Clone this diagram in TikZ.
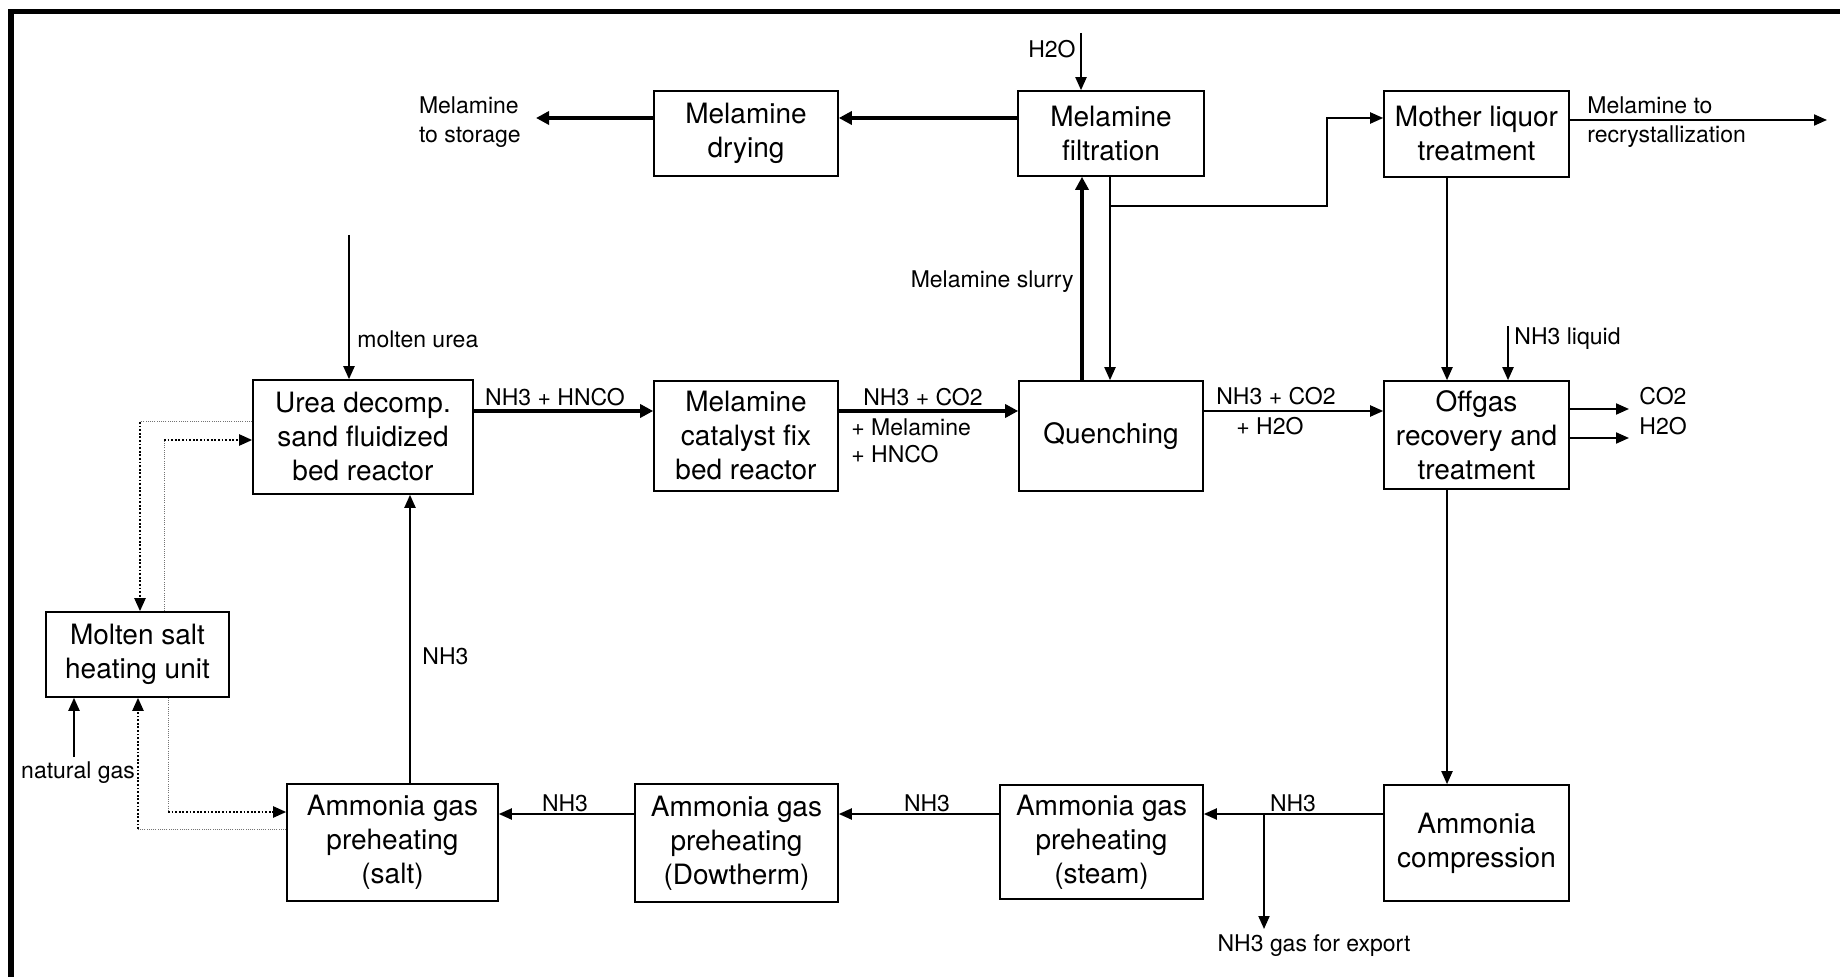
\documentclass[tikz,border=0pt]{standalone}
\usepackage{fontspec}
\setmainfont{TeX Gyre Heros}
\usetikzlibrary{arrows.meta}
\tikzset{
  box/.style={draw, line width=0.8pt, align=center, inner sep=0pt, font=\fontsize{14}{17}\selectfont},
  lbl/.style={font=\fontsize{11.5}{14.5}\selectfont, inner sep=0pt},
  flow/.style={line width=1pt, -{Triangle[length=6.5pt,width=5.5pt]}},
  thickflow/.style={line width=2.3pt, -{Triangle[length=6.5pt,width=6.5pt]}},
  thindot/.style={line width=0.5pt, black!55, dash pattern=on 0.5pt off 0.6pt},
  thickdot/.style={line width=1.1pt, dash pattern=on 0.9pt off 0.9pt, -{Triangle[length=6.5pt,width=5.5pt]}},
  frameline/.style={line width=2.8pt}
}
\begin{document}
\begin{tikzpicture}[x=0.5pt,y=-0.5pt]
\useasboundingbox (0,0) rectangle (1840,977);
\draw[frameline] (11,977) -- (11,11.5) -- (1840,11.5);

% boxes
\node[box, minimum width=92pt, minimum height=42.5pt] (drying) at (746,133.5) {Melamine\\drying};
\node[box, minimum width=93pt, minimum height=42.5pt] (filt) at (1111,133.5) {Melamine\\filtration};
\node[box, minimum width=92.5pt, minimum height=43pt] (mother) at (1476.5,134) {Mother liquor\\treatment};
\node[box, minimum width=110pt, minimum height=57pt] (urea) at (363,437) {Urea decomp.\\sand fluidized\\bed reactor};
\node[box, minimum width=92pt, minimum height=55pt] (cat) at (746,436) {Melamine\\catalyst fix\\bed reactor};
\node[box, minimum width=92pt, minimum height=55pt] (quench) at (1111,436) {Quenching};
\node[box, minimum width=92.5pt, minimum height=54pt] (offgas) at (1476.5,435) {Offgas\\recovery and\\treatment};
\node[box, minimum width=91.5pt, minimum height=42.5pt] (molten) at (137.5,654.5) {Molten salt\\heating unit};
\node[box, minimum width=105.5pt, minimum height=58.5pt] (salt) at (392.5,842.5) {Ammonia gas\\preheating\\(salt)};
\node[box, minimum width=101.5pt, minimum height=59pt] (dow) at (736.5,843) {Ammonia gas\\preheating\\(Dowtherm)};
\node[box, minimum width=101.5pt, minimum height=57pt] (steam) at (1101.5,842) {Ammonia gas\\preheating\\(steam)};
\node[box, minimum width=92.5pt, minimum height=58pt] (comp) at (1476.5,843) {Ammonia\\compression};

% free ends
\coordinate (storage) at (536,118);
\coordinate (h2oin) at (1081,33);
\coordinate (brA) at (1110,206);
\coordinate (brB) at (1327,206);
\coordinate (brC) at (1327,118);
\coordinate (recryst) at (1827,120);
\coordinate (nh3liq) at (1508,326);
\coordinate (ureain) at (349,235);
\coordinate (co2out) at (1629,409);
\coordinate (h2oout) at (1629,438);
\coordinate (expA) at (1264,814);
\coordinate (expB) at (1264,929);
\coordinate (natgas) at (74,757);
\coordinate (dA) at (140,422);
\coordinate (dB) at (164,440);
\coordinate (dC) at (168,812);
\coordinate (dD) at (138,829);

% top row
\draw[thickflow] (filt.west |- 0,118) -- (drying.east |- 0,118);
\draw[thickflow] (drying.west |- 0,118) -- (storage);
\node[lbl, anchor=east, align=left] (storagelbl) at (521,122) {Melamine\\to storage};
\draw[flow] (h2oin) -- (filt.north -| 1081,0);
\node[lbl, anchor=east] (h2olbl) at (1076,49) {H2O};
\draw[thickflow] (quench.north -| 1082,0) -- (filt.south -| 1082,0);
\node[lbl, anchor=east] (slurrylbl) at (1074,282) {Melamine slurry};
\draw[flow] (filt.south -| 1110,0) -- (quench.north -| 1110,0);
\draw[flow] (brA) -- (brB) -- (brC) -- (mother.west |- 0,118);
\draw[flow] (mother.east |- 0,120) -- (recryst);
\node[lbl, anchor=west, align=left] (recrystlbl) at (1587,122) {Melamine to\\recrystallization};
\draw[flow] (mother.south -| 1447,0) -- (offgas.north -| 1447,0);
\draw[flow] (nh3liq) -- (offgas.north -| 1508,0);
\node[lbl, anchor=west] (nh3liqlbl) at (1514,339) {NH3 liquid};

% middle row
\draw[flow] (ureain) -- (urea.north -| 349,0);
\node[lbl, anchor=west] (urealbl) at (357,339) {molten urea};
\draw[thickflow] (urea.east |- 0,411) -- (cat.west |- 0,411);
\node[lbl] (l1) at (555,397) {NH3 + HNCO};
\draw[thickflow] (cat.east |- 0,411) -- (quench.west |- 0,411);
\node[lbl] (l2) at (923,397) {NH3 + CO2};
\node[lbl, anchor=west] (l3) at (851,427) {+ Melamine};
\node[lbl, anchor=west] (l4) at (851,454) {+ HNCO};
\draw[flow] (quench.east |- 0,411) -- (offgas.west |- 0,411);
\node[lbl] (l5) at (1276,396) {NH3 + CO2};
\node[lbl, anchor=west] (l6) at (1236,426) {+ H2O};
\draw[flow] (offgas.east |- 0,409) -- (co2out);
\draw[flow] (offgas.east |- 0,438) -- (h2oout);
\node[lbl, anchor=west] (co2lbl) at (1639,396) {CO2};
\node[lbl, anchor=west] (h2olbl2) at (1639,426) {H2O};
\draw[flow] (offgas.south -| 1447,0) -- (comp.north -| 1447,0);

% bottom row
\draw[flow] (comp.west |- 0,814) -- (steam.east |- 0,814);
\node[lbl] (l7) at (1293,803) {NH3};
\draw[flow] (expA) -- (expB);
\node[lbl] (explbl) at (1314,946) {NH3 gas for export};
\draw[flow] (steam.west |- 0,814) -- (dow.east |- 0,814);
\node[lbl] (l8) at (927,803) {NH3};
\draw[flow] (dow.west |- 0,814) -- (salt.east |- 0,814);
\node[lbl] (l9) at (565,803) {NH3};
\draw[flow] (salt.north -| 410,0) -- (urea.south -| 410,0);
\node[lbl, anchor=west] (l10) at (422,656) {NH3};
\draw[flow] (natgas) -- (molten.south -| 74,0);
\node[lbl] (natlbl) at (78,773) {natural gas};

% molten salt loops
\draw[thindot] (urea.west |- 0,422) -- (dA);
\draw[thickdot] (dA) -- (molten.north -| 140,0);
\draw[thindot] (molten.north -| 164,0) -- (dB);
\draw[thickdot] (dB) -- (urea.west |- 0,440);
\draw[thindot] (molten.south -| 168,0) -- (dC);
\draw[thickdot] (dC) -- (salt.west |- 0,812);
\draw[thindot] (salt.west |- 0,829) -- (dD);
\draw[thickdot] (dD) -- (molten.south -| 138,0);
\end{tikzpicture}
\end{document}
